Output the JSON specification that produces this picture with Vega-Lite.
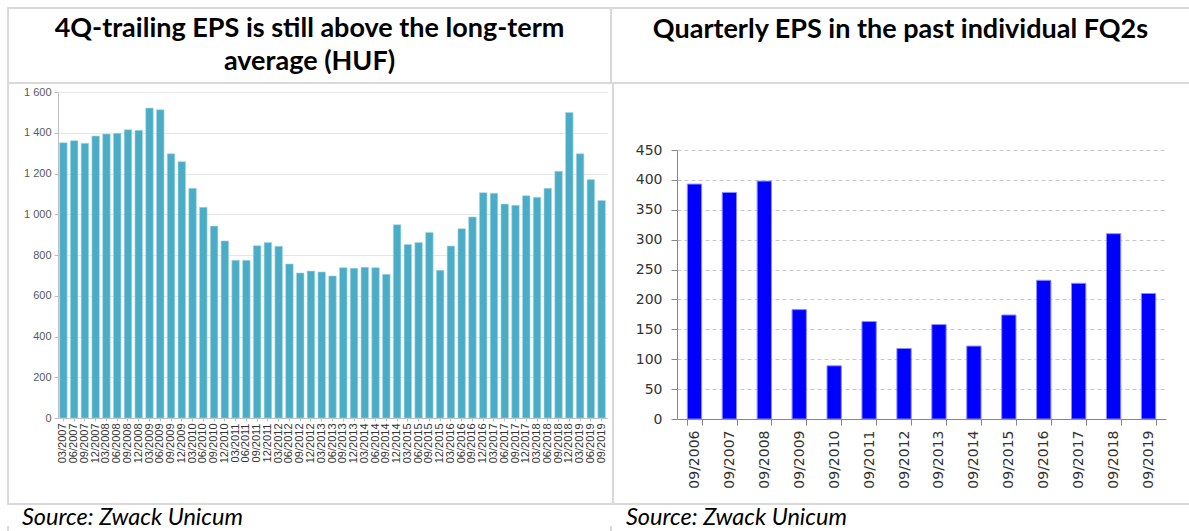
{
  "$schema": "https://vega.github.io/schema/vega-lite/v6.json",
  "padding": {"left": 7, "top": 7, "right": 0, "bottom": 0},
  "background": "white",
  "config": {"view": {"stroke": null}, "font": "Lato"},
  "datasets": {
    "trailing": [
      {"quarter": "03/2007", "eps": 1351}, {"quarter": "06/2007", "eps": 1361}, {"quarter": "09/2007", "eps": 1348}, {"quarter": "12/2007", "eps": 1384},
      {"quarter": "03/2008", "eps": 1394}, {"quarter": "06/2008", "eps": 1397}, {"quarter": "09/2008", "eps": 1415}, {"quarter": "12/2008", "eps": 1412},
      {"quarter": "03/2009", "eps": 1521}, {"quarter": "06/2009", "eps": 1513}, {"quarter": "09/2009", "eps": 1297}, {"quarter": "12/2009", "eps": 1258},
      {"quarter": "03/2010", "eps": 1127}, {"quarter": "06/2010", "eps": 1034}, {"quarter": "09/2010", "eps": 942}, {"quarter": "12/2010", "eps": 869},
      {"quarter": "03/2011", "eps": 774}, {"quarter": "06/2011", "eps": 774}, {"quarter": "09/2011", "eps": 846}, {"quarter": "12/2011", "eps": 861},
      {"quarter": "03/2012", "eps": 843}, {"quarter": "06/2012", "eps": 756}, {"quarter": "09/2012", "eps": 712}, {"quarter": "12/2012", "eps": 721},
      {"quarter": "03/2013", "eps": 717}, {"quarter": "06/2013", "eps": 697}, {"quarter": "09/2013", "eps": 738}, {"quarter": "12/2013", "eps": 735},
      {"quarter": "03/2014", "eps": 740}, {"quarter": "06/2014", "eps": 738}, {"quarter": "09/2014", "eps": 705}, {"quarter": "12/2014", "eps": 949},
      {"quarter": "03/2015", "eps": 852}, {"quarter": "06/2015", "eps": 861}, {"quarter": "09/2015", "eps": 911}, {"quarter": "12/2015", "eps": 725},
      {"quarter": "03/2016", "eps": 844}, {"quarter": "06/2016", "eps": 929}, {"quarter": "09/2016", "eps": 987}, {"quarter": "12/2016", "eps": 1106},
      {"quarter": "03/2017", "eps": 1103}, {"quarter": "06/2017", "eps": 1050}, {"quarter": "09/2017", "eps": 1044}, {"quarter": "12/2017", "eps": 1091},
      {"quarter": "03/2018", "eps": 1083}, {"quarter": "06/2018", "eps": 1127}, {"quarter": "09/2018", "eps": 1211}, {"quarter": "12/2018", "eps": 1499},
      {"quarter": "03/2019", "eps": 1297}, {"quarter": "06/2019", "eps": 1170}, {"quarter": "09/2019", "eps": 1067}
    ],
    "fq2": [
      {"quarter": "09/2006", "eps": 393}, {"quarter": "09/2007", "eps": 379}, {"quarter": "09/2008", "eps": 398}, {"quarter": "09/2009", "eps": 183},
      {"quarter": "09/2010", "eps": 89}, {"quarter": "09/2011", "eps": 163}, {"quarter": "09/2012", "eps": 118}, {"quarter": "09/2013", "eps": 158},
      {"quarter": "09/2014", "eps": 122}, {"quarter": "09/2015", "eps": 174}, {"quarter": "09/2016", "eps": 232}, {"quarter": "09/2017", "eps": 227},
      {"quarter": "09/2018", "eps": 310}, {"quarter": "09/2019", "eps": 210}
    ]
  },
  "spacing": 0,
  "vconcat": [
    {"width": 1182, "height": 2, "view": {"fill": "#d9d9d9", "stroke": null}, "data": {"values": []}, "mark": "text", "encoding": {"text": {"value": ""}}},
    {
      "spacing": 0,
      "hconcat": [
        {"width": 2, "height": 73, "view": {"fill": "#d9d9d9", "stroke": null}, "data": {"values": []}, "mark": "text", "encoding": {"text": {"value": ""}}},
        {
          "width": 601, "height": 73, "view": {"fill": "white", "stroke": null},
          "data": {"values": [{"t": "4Q-trailing EPS is still above the long-term\naverage (HUF)"}]},
          "mark": {"type": "text", "font": "Lato", "fontSize": 27, "fontWeight": "bold", "lineBreak": "\n", "lineHeight": 33, "align": "center", "baseline": "middle", "dy": -16.5, "color": "#000000"},
          "encoding": {"text": {"field": "t"}}
        },
        {"width": 2, "height": 73, "view": {"fill": "#d9d9d9", "stroke": null}, "data": {"values": []}, "mark": "text", "encoding": {"text": {"value": ""}}},
        {
          "width": 577, "height": 73, "view": {"fill": "white", "stroke": null},
          "data": {"values": [{"t": "Quarterly EPS in the past individual FQ2s"}]},
          "mark": {"type": "text", "font": "Lato", "fontSize": 27, "fontWeight": "bold", "align": "center", "baseline": "middle", "dy": -16, "color": "#000000"},
          "encoding": {"text": {"field": "t"}}
        }
      ]
    },
    {"width": 1182, "height": 2, "view": {"fill": "#d9d9d9", "stroke": null}, "data": {"values": []}, "mark": "text", "encoding": {"text": {"value": ""}}},
    {
      "spacing": 0,
      "hconcat": [
        {"width": 2, "height": 419, "view": {"fill": "#d9d9d9", "stroke": null}, "data": {"values": []}, "mark": "text", "encoding": {"text": {"value": ""}}},
        {"width": 14, "height": 1, "view": {"fill": "white", "stroke": null}, "data": {"values": []}, "mark": "text", "encoding": {"text": {"value": ""}}},
        {
          "spacing": 0,
          "vconcat": [
            {"width": 549, "height": 2, "view": {"fill": "white", "stroke": null}, "data": {"values": []}, "mark": "text", "encoding": {"text": {"value": ""}}},
            {
              "width": 549, "height": 326,
              "data": {"name": "trailing"},
              "mark": {"type": "bar", "color": "#4bacc6", "stroke": "#a8d8e6", "strokeWidth": 0.6},
              "encoding": {
                "x": {
                  "field": "quarter", "type": "nominal", "sort": null,
                  "scale": {"paddingInner": 0.3, "paddingOuter": 0.15},
                  "axis": {"title": null, "labelAngle": -90, "labelFont": "Liberation Sans", "labelFontSize": 11, "labelColor": "#333333", "labelOverlap": false, "labelPadding": 2, "tickSize": 3, "tickColor": "#bfbfbf", "domainColor": "#bfbfbf", "labelBound": false}
                },
                "y": {
                  "field": "eps", "type": "quantitative",
                  "scale": {"domain": [0, 1600], "nice": false},
                  "axis": {"title": null, "values": [0, 200, 400, 600, 800, 1000, 1200, 1400, 1600], "labelExpr": "replace(format(datum.value, ','), ',', ' ')", "labelFont": "Liberation Sans", "labelFontSize": 11, "labelColor": "#595959", "labelPadding": 3, "tickSize": 4, "tickColor": "#bfbfbf", "domainColor": "#bfbfbf", "gridColor": "#e6e6e6", "gridWidth": 1}
                }
              }
            }
          ]
        },
        {"width": 5, "height": 1, "view": {"fill": "white", "stroke": null}, "data": {"values": []}, "mark": "text", "encoding": {"text": {"value": ""}}},
        {"width": 2, "height": 419, "view": {"fill": "#d9d9d9", "stroke": null}, "data": {"values": []}, "mark": "text", "encoding": {"text": {"value": ""}}},
        {"width": 21, "height": 1, "view": {"fill": "white", "stroke": null}, "data": {"values": []}, "mark": "text", "encoding": {"text": {"value": ""}}},
        {
          "spacing": 0,
          "vconcat": [
            {"width": 489, "height": 59, "view": {"fill": "white", "stroke": null}, "data": {"values": []}, "mark": "text", "encoding": {"text": {"value": ""}}},
            {
              "width": 489, "height": 269,
              "data": {"name": "fq2"},
              "mark": {"type": "bar", "color": "#0000ff", "stroke": "#8c8cff", "strokeWidth": 1},
              "encoding": {
                "x": {
                  "field": "quarter", "type": "nominal", "sort": null,
                  "scale": {"paddingInner": 0.59, "paddingOuter": 0.295},
                  "axis": {"title": null, "labelAngle": -90, "labelFont": "DejaVu Sans", "labelFontSize": 14, "labelColor": "#333333", "labelOverlap": false, "labelPadding": 5, "tickSize": 6, "tickBand": "extent", "tickColor": "#868686", "domainColor": "#868686", "labelBound": false}
                },
                "y": {
                  "field": "eps", "type": "quantitative",
                  "scale": {"domain": [0, 450], "nice": false},
                  "axis": {"title": null, "values": [0, 50, 100, 150, 200, 250, 300, 350, 400, 450], "labelFont": "DejaVu Sans", "labelFontSize": 14, "labelColor": "#333333", "labelPadding": 9, "tickSize": 6, "tickColor": "#868686", "domainColor": "#868686", "gridColor": "#c8c8c8", "gridDash": [4, 3], "gridWidth": 1}
                }
              }
            }
          ]
        }
      ]
    },
    {"width": 1182, "height": 2, "view": {"fill": "#d9d9d9", "stroke": null}, "data": {"values": []}, "mark": "text", "encoding": {"text": {"value": ""}}},
    {
      "spacing": 0,
      "hconcat": [
        {"width": 2, "height": 26, "view": {"fill": "#d9d9d9", "stroke": null}, "data": {"values": []}, "mark": "text", "encoding": {"text": {"value": ""}}},
        {
          "width": 601, "height": 26, "view": {"fill": "white", "stroke": null},
          "title": {"text": "Source: Zwack Unicum", "anchor": "start", "frame": "group", "orient": "top", "offset": -22, "dx": 13, "font": "Lato", "fontSize": 23.5, "fontStyle": "italic", "fontWeight": "normal", "color": "#000000", "baseline": "alphabetic"},
          "data": {"values": []}, "mark": "text", "encoding": {"text": {"value": ""}}
        },
        {"width": 2, "height": 26, "view": {"fill": "#d9d9d9", "stroke": null}, "data": {"values": []}, "mark": "text", "encoding": {"text": {"value": ""}}},
        {
          "width": 577, "height": 26, "view": {"fill": "white", "stroke": null},
          "title": {"text": "Source: Zwack Unicum", "anchor": "start", "frame": "group", "orient": "top", "offset": -22, "dx": 14, "font": "Lato", "fontSize": 23.5, "fontStyle": "italic", "fontWeight": "normal", "color": "#000000", "baseline": "alphabetic"},
          "data": {"values": []}, "mark": "text", "encoding": {"text": {"value": ""}}
        }
      ]
    }
  ]
}
